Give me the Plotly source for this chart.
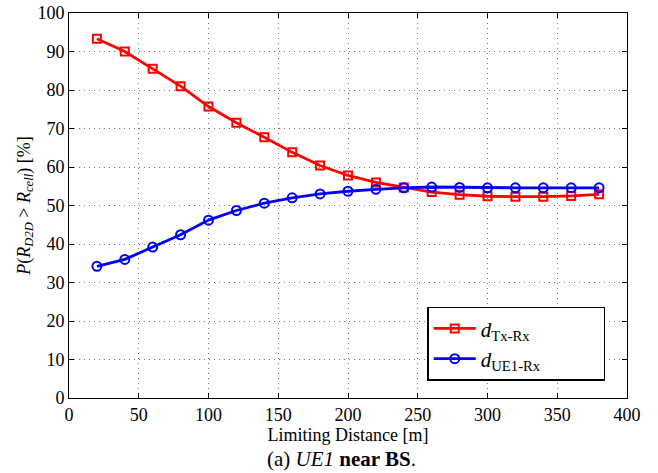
import plotly.graph_objects as go

distance = [20, 40, 60, 80, 100, 120, 140, 160, 180, 200, 220, 240, 260, 280, 300, 320, 340, 360, 380]
p_tx_rx = [93.3, 90.0, 85.5, 81.0, 75.7, 71.5, 67.7, 63.8, 60.4, 57.8, 56.0, 54.7, 53.5, 52.8, 52.4, 52.3, 52.3, 52.5, 52.9]
p_ue1_rx = [34.2, 36.0, 39.2, 42.4, 46.2, 48.7, 50.6, 52.0, 53.0, 53.7, 54.2, 54.6, 54.8, 54.7, 54.6, 54.6, 54.6, 54.6, 54.6]

font = "Liberation Serif, Times New Roman, serif"
pad = "\u00a0" * 11

fig = go.Figure()
fig.add_trace(go.Scatter(
    x=distance, y=p_tx_rx, mode="lines+markers",
    name="<i>d</i><sub>Tx-Rx</sub>" + pad,
    line=dict(color="#ff0000", width=2.8),
    marker=dict(symbol="square-open", size=8, color="#ff0000", line=dict(width=2)),
))
fig.add_trace(go.Scatter(
    x=distance, y=p_ue1_rx, mode="lines+markers",
    name="<i>d</i><sub>UE1-Rx</sub>" + pad,
    line=dict(color="#0000ff", width=2.8),
    marker=dict(symbol="circle-open", size=9, color="#0000ff", line=dict(width=2)),
))

axis_common = dict(
    showgrid=True, gridcolor="#777777", griddash="1px,4px", gridwidth=1,
    showline=True, linecolor="black", linewidth=1, mirror="ticks",
    ticks="inside", ticklen=5, tickcolor="black", automargin=False,
    zeroline=False, tickfont=dict(family=font, size=18, color="black"),
)

fig.update_layout(
    width=658, height=473,
    paper_bgcolor="white", plot_bgcolor="white",
    margin=dict(l=69, r=31, t=13, b=75),
    font=dict(family=font, color="black"),
    xaxis=dict(range=[0, 400], dtick=50,
               title=dict(text="Limiting Distance [m]", font=dict(family=font, size=18), standoff=0),
               **axis_common),
    yaxis=dict(range=[0, 100], dtick=10,
               title=dict(text="<i>P</i>(<i>R</i><sub><i>D2D</i></sub> > <i>R</i><sub><i>cell</i></sub>) [%]",
                          font=dict(family=font, size=18), standoff=2),
               **axis_common),
    legend=dict(x=0.642, y=0.237, xanchor="left", yanchor="top",
                bgcolor="white", bordercolor="black", borderwidth=1.5,
                font=dict(family=font, size=21), tracegroupgap=0,
                itemwidth=42),
    showlegend=True,
)

fig.add_annotation(
    text="(a) <i>UE1</i> <b>near BS</b>.", xref="paper", yref="paper",
    x=0.488, y=-0.158, xanchor="center", yanchor="middle", showarrow=False,
    font=dict(family=font, size=21, color="black"),
)

fig.write_html("out.html", config={"displayModeBar": False},
               post_script="document.body.style.margin='0';")
